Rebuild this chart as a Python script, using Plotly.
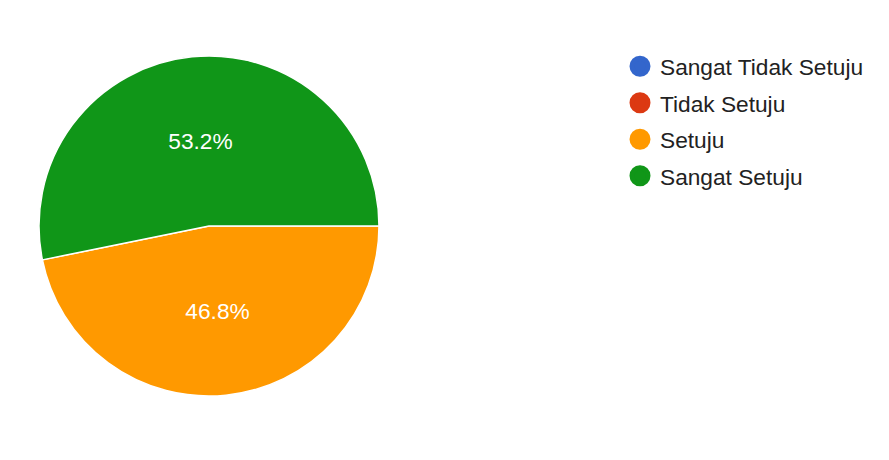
import plotly.graph_objects as go

labels = ["Sangat Tidak Setuju", "Tidak Setuju", "Setuju", "Sangat Setuju"]
values = [0, 0, 22, 25]
colors = ["#3366cc", "#dc3912", "#ff9900", "#109618"]

W, H = 889, 460
OFF = 8  # page body margin
fig = go.Figure()
fig.add_trace(go.Pie(
    labels=labels, values=values, sort=False, direction="clockwise", rotation=90,
    marker=dict(colors=colors, line=dict(color="white", width=1.5)),
    texttemplate="%{percent:.1%}", textposition="inside", insidetextorientation="horizontal",
    textfont=dict(color="white", size=22.7, family="Liberation Sans, Arial"),
    domain=dict(x=[(39 - OFF) / W, (379 - OFF) / W],
                y=[(H - (396 - OFF)) / H, (H - (56 - OFF)) / H]),
    showlegend=False, hoverinfo="label+percent",
))
for i, (lab, col) in enumerate(zip(labels, colors)):
    fig.add_trace(go.Scatter(
        x=[None], y=[None], mode="markers", name=lab, legendgroup=str(i),
        marker=dict(color=col, size=16, symbol="circle", line=dict(color=col, width=5)),
        showlegend=True,
    ))
fig.update_layout(
    width=W, height=H, margin=dict(l=0, r=0, t=0, b=0),
    paper_bgcolor="white", plot_bgcolor="white",
    xaxis=dict(visible=False), yaxis=dict(visible=False),
    font=dict(family="Liberation Sans, Arial", size=22.7, color="#222222"),
    legend=dict(x=(620 - OFF) / W, xanchor="left", y=(H - (45 - OFF)) / H, yanchor="top",
                font=dict(size=22.7, color="#222222"), tracegroupgap=4,
                itemsizing="trace", bgcolor="rgba(0,0,0,0)"),
)
fig.write_html("out.html")
